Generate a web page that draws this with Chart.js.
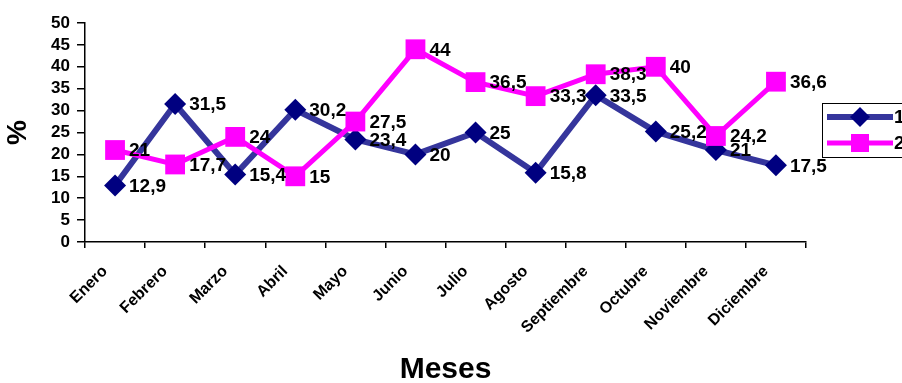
<!DOCTYPE html>
<html>
<head>
<meta charset="utf-8">
<script src="https://cdn.jsdelivr.net/npm/chart.js@4/dist/chart.umd.min.js"></script>
<style>
  html, body { margin: 0; padding: 0; background: #fff; overflow: hidden; }
  #wrap { width: 902px; height: 383px; position: relative; }
</style>
</head>
<body>
<div id="wrap"><canvas id="chart" width="902" height="383"></canvas></div>
<script>
const meses = ["Enero", "Febrero", "Marzo", "Abril", "Mayo", "Junio", "Julio",
  "Agosto", "Septiembre", "Octubre", "Noviembre", "Diciembre"];
const serie1 = [12.9, 31.5, 15.4, 30.2, 23.4, 20, 25, 15.8, 33.5, 25.2, 21, 17.5];
const serie2 = [21, 17.7, 24, 15, 27.5, 44, 36.5, 33.3, 38.3, 40, 24.2, 36.6];
const nombres = ["1", "2"];
const yTicks = [0, 5, 10, 15, 20, 25, 30, 35, 40, 45, 50];

const FONT = "'Liberation Sans', Arial, sans-serif";
const AZUL_LINEA = "#35359c";
const AZUL = "#000080";
const ROSA = "#ff00ff";

const fmt = v => String(v).replace(".", ",");

// value labels to the right of each point
const etiquetas = {
  id: "etiquetas",
  afterDatasetsDraw(chart) {
    const c = chart.ctx;
    c.save();
    c.font = "bold 19px " + FONT;
    c.fillStyle = "#000";
    c.textAlign = "left";
    c.textBaseline = "middle";
    chart.data.datasets.forEach((ds, i) => {
      chart.getDatasetMeta(i).data.forEach((pt, j) => {
        c.fillText(fmt(ds.data[j]), pt.x + 14, pt.y + 1);
      });
    });
    c.restore();
  }
};

// Excel-like legend box, cut off by the right edge
const leyenda = {
  id: "leyenda",
  afterDraw(chart) {
    const c = chart.ctx;
    c.save();
    c.strokeStyle = "#000";
    c.lineWidth = 1;
    c.strokeRect(822.5, 103.5, 200, 54);
    const filas = [
      { y: 117, color: AZUL_LINEA, mk: AZUL, w: 6, shape: "diamond" },
      { y: 143, color: ROSA, mk: ROSA, w: 5, shape: "square" }
    ];
    filas.forEach((f, i) => {
      c.strokeStyle = f.color;
      c.lineWidth = f.w;
      c.beginPath();
      c.moveTo(827, f.y);
      c.lineTo(893, f.y);
      c.stroke();
      c.fillStyle = f.mk;
      c.beginPath();
      if (f.shape === "diamond") {
        c.moveTo(860, f.y - 10); c.lineTo(870, f.y); c.lineTo(860, f.y + 10); c.lineTo(850, f.y);
      } else {
        c.rect(851, f.y - 9, 18, 18);
      }
      c.fill();
      c.fillStyle = "#000";
      c.font = "bold 19px " + FONT;
      c.textBaseline = "middle";
      c.fillText(nombres[i], 894, f.y + 1);
    });
    c.restore();
  }
};

new Chart(document.getElementById("chart"), {
  type: "line",
  data: {
    labels: meses,
    datasets: [
      {
        label: nombres[0],
        data: serie1,
        borderColor: AZUL_LINEA,
        borderWidth: 6,
        pointStyle: "rectRot",
        pointRadius: 11,
        pointBackgroundColor: AZUL,
        pointBorderColor: AZUL,
        pointBorderWidth: 0,
        order: 1
      },
      {
        label: nombres[1],
        data: serie2,
        borderColor: ROSA,
        borderWidth: 5,
        pointStyle: "rect",
        pointRadius: 14,
        pointBackgroundColor: ROSA,
        pointBorderColor: ROSA,
        pointBorderWidth: 0,
        order: 0
      }
    ]
  },
  options: {
    responsive: false,
    animation: false,
    layout: { padding: { top: 23, right: 96, left: 0, bottom: 0 } },
    plugins: {
      legend: { display: false },
      tooltip: { enabled: false }
    },
    scales: {
      x: {
        offset: true,
        grid: { offset: true, drawOnChartArea: false, tickLength: 6, color: "#000", lineWidth: 1.5 },
        border: { color: "#000", width: 1.5 },
        ticks: {
          color: "#000",
          font: { family: FONT, size: 16, weight: "bold" },
          minRotation: 45,
          maxRotation: 45,
          autoSkip: false,
          padding: 14,
          labelOffset: -10
        },
        title: {
          display: true,
          text: "Meses",
          color: "#000",
          font: { family: FONT, size: 30, weight: "bold", lineHeight: 1 },
          padding: { top: 0, bottom: -2 }
        },
        afterFit(scale) { scale.height = 141; }
      },
      y: {
        min: 0,
        max: 50,
        afterBuildTicks(scale) { scale.ticks = yTicks.map(v => ({ value: v })); },
        grid: { drawOnChartArea: false, tickLength: 8, color: "#000", lineWidth: 1.5 },
        border: { color: "#000", width: 1.5 },
        ticks: {
          color: "#000",
          font: { family: FONT, size: 17, weight: "bold" },
          padding: 7,
          autoSkip: false
        },
        title: {
          display: true,
          text: "%",
          color: "#000",
          font: { family: FONT, size: 28, weight: "bold", lineHeight: 1 },
          padding: { top: 4, bottom: 0 }
        },
        afterFit(scale) { scale.width = 85; }
      }
    }
  },
  plugins: [etiquetas, leyenda]
});
</script>
</body>
</html>
